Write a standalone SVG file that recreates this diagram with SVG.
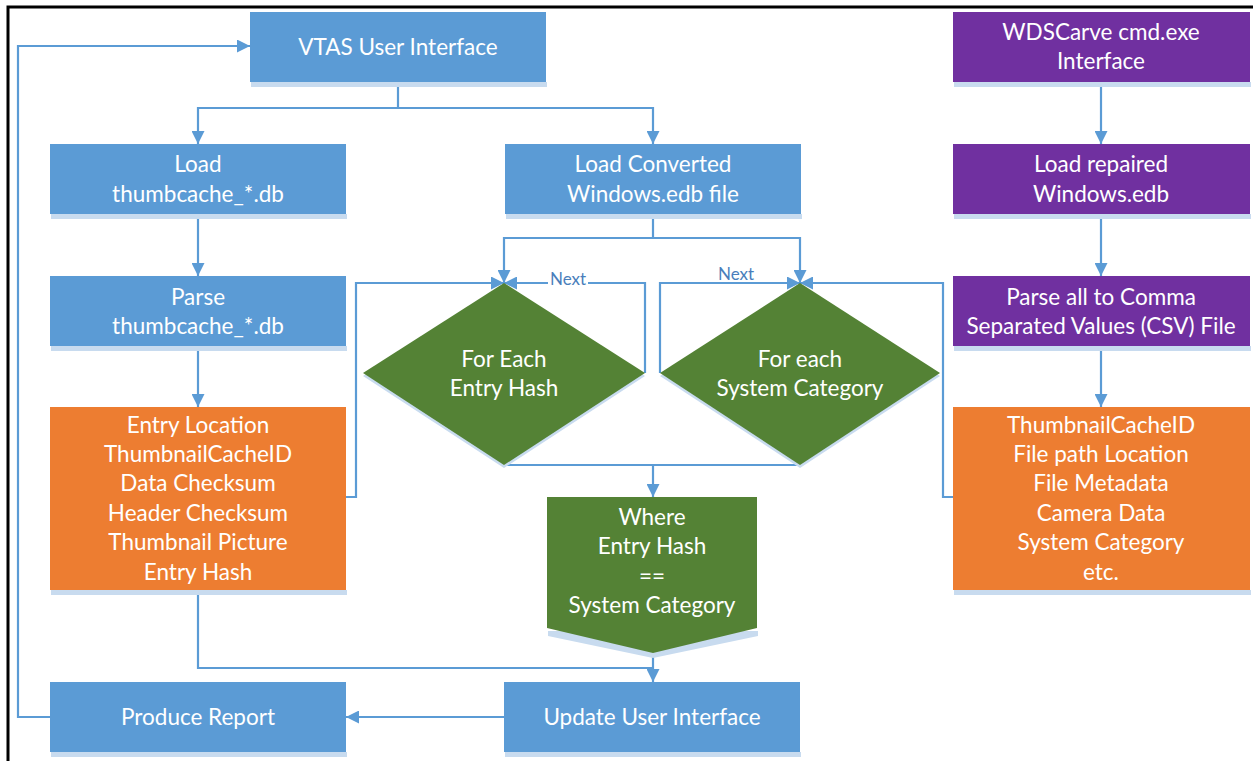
<svg xmlns="http://www.w3.org/2000/svg" width="1253" height="761" viewBox="0 0 1253 761">
<style>
.t{font-family:Lato,"Open Sans","Liberation Sans",sans-serif;font-size:22.5px;fill:#fff;text-anchor:middle}
.blue{fill:#5B9BD5}
.orange{fill:#ED7D31}
.purple{fill:#7030A0}
.green{fill:#548235}
.sh{fill:#c8dbef}
.ln{fill:none;stroke:#5B9BD5;stroke-width:2.2}
.nx{font-family:Lato,"Open Sans","Liberation Sans",sans-serif;font-size:17px;fill:#4a7ebb;text-anchor:middle}
</style>
<defs>
<marker id="arr" viewBox="0 0 10 10" refX="10" refY="5" markerWidth="13" markerHeight="13" markerUnits="userSpaceOnUse" orient="auto">
<path d="M0,0 L10,5 L0,10 z" fill="#5B9BD5"/>
</marker>
</defs>
<rect width="1253" height="761" fill="#fff"/>
<path d="M8,761 L8,7 L1253,7" fill="none" stroke="#000" stroke-width="3"/>

<g id="connectors">
<path class="ln" d="M398,82 V108 H198 V144" marker-end="url(#arr)"/>
<path class="ln" d="M398,108 H653 V144" marker-end="url(#arr)"/>
<path class="ln" d="M198,214 V276" marker-end="url(#arr)"/>
<path class="ln" d="M198,346 V407" marker-end="url(#arr)"/>
<path class="ln" d="M653,214 V238 H504 V283" marker-end="url(#arr)"/>
<path class="ln" d="M653,238 H800 V283" marker-end="url(#arr)"/>
<path class="ln" d="M346,497 H356 V283 H504" marker-end="url(#arr)"/>
<path class="ln" d="M645,373 V283 H504" marker-end="url(#arr)"/>
<path class="ln" d="M660,373 V283 H800" marker-end="url(#arr)"/>
<path class="ln" d="M953,497 H943 V283 H800" marker-end="url(#arr)"/>
<path class="ln" d="M504,465 H800"/>
<path class="ln" d="M653,465 V497" marker-end="url(#arr)"/>
<path class="ln" d="M198,590 V668 H653"/>
<path class="ln" d="M653,652 V682" marker-end="url(#arr)"/>
<path class="ln" d="M504,717 H346" marker-end="url(#arr)"/>
<path class="ln" d="M50,717 H18 V46 H250" marker-end="url(#arr)"/>
<path class="ln" d="M1101,82 V144" marker-end="url(#arr)"/>
<path class="ln" d="M1101,214 V276" marker-end="url(#arr)"/>
<path class="ln" d="M1101,346 V407" marker-end="url(#arr)"/>
<rect x="548" y="269" width="40" height="17" fill="#fff"/>
<text class="nx" x="568" y="285">Next</text>
<rect x="716" y="264" width="40" height="17" fill="#fff"/>
<text class="nx" x="736" y="280">Next</text>
</g>

<g id="vtas">
<rect class="sh" x="251" y="82" width="296" height="5"/>
<rect class="blue" x="250" y="12" width="296" height="70"/>
<text class="t" x="398" y="55">VTAS User Interface</text>
</g>
<g id="load-thumb">
<rect class="sh" x="51" y="214" width="296" height="5"/>
<rect class="blue" x="50" y="144" width="296" height="70"/>
<text class="t" x="198" y="172">Load</text>
<text class="t" x="198" y="202">thumbcache_*.db</text>
</g>
<g id="parse-thumb">
<rect class="sh" x="51" y="346" width="296" height="5"/>
<rect class="blue" x="50" y="276" width="296" height="70"/>
<text class="t" x="198" y="305">Parse</text>
<text class="t" x="198" y="334">thumbcache_*.db</text>
</g>
<g id="entry-fields">
<rect class="sh" x="51" y="590" width="296" height="5"/>
<rect class="orange" x="50" y="407" width="296" height="183"/>
<text class="t" x="198" y="433">Entry Location</text>
<text class="t" x="198" y="462">ThumbnailCacheID</text>
<text class="t" x="198" y="491">Data Checksum</text>
<text class="t" x="198" y="521">Header Checksum</text>
<text class="t" x="198" y="550">Thumbnail Picture</text>
<text class="t" x="198" y="580">Entry Hash</text>
</g>
<g id="produce-report">
<rect class="sh" x="51" y="752" width="296" height="5"/>
<rect class="blue" x="50" y="682" width="296" height="70"/>
<text class="t" x="198" y="725">Produce Report</text>
</g>
<g id="load-converted">
<rect class="sh" x="506" y="214" width="296" height="5"/>
<rect class="blue" x="505" y="144" width="296" height="70"/>
<text class="t" x="653" y="172">Load Converted</text>
<text class="t" x="653" y="202">Windows.edb file</text>
</g>
<g id="for-each-entry">
<polygon class="sh" points="504,286 645,376 504,468 363,376"/>
<polygon class="green" points="504,283 645,373 504,465 363,373"/>
<text class="t" x="504" y="367">For Each</text>
<text class="t" x="504" y="396">Entry Hash</text>
</g>
<g id="for-each-category">
<polygon class="sh" points="800,286 940,376 800,468 660,376"/>
<polygon class="green" points="800,283 940,373 800,465 660,373"/>
<text class="t" x="800" y="367">For each</text>
<text class="t" x="800" y="396">System Category</text>
</g>
<g id="where">
<polygon class="sh" points="548,631 758,631 758,636 653,658 548,636"/>
<polygon class="green" points="547,497 757,497 757,628 653,653 547,628"/>
<text class="t" x="652" y="525">Where</text>
<text class="t" x="652" y="554">Entry Hash</text>
<text class="t" x="652" y="584">==</text>
<text class="t" x="652" y="613">System Category</text>
</g>
<g id="update-ui">
<rect class="sh" x="505" y="752" width="296" height="5"/>
<rect class="blue" x="504" y="682" width="296" height="70"/>
<text class="t" x="652" y="725">Update User Interface</text>
</g>
<g id="wdscarve">
<rect class="sh" x="954" y="82" width="297" height="5"/>
<rect class="purple" x="953" y="12" width="297" height="70"/>
<text class="t" x="1101" y="40">WDSCarve cmd.exe</text>
<text class="t" x="1101" y="69">Interface</text>
</g>
<g id="load-repaired">
<rect class="sh" x="954" y="214" width="297" height="5"/>
<rect class="purple" x="953" y="144" width="297" height="70"/>
<text class="t" x="1101" y="172">Load repaired</text>
<text class="t" x="1101" y="202">Windows.edb</text>
</g>
<g id="parse-csv">
<rect class="sh" x="954" y="346" width="297" height="5"/>
<rect class="purple" x="953" y="276" width="297" height="70"/>
<text class="t" x="1101" y="305">Parse all to Comma</text>
<text class="t" x="1101" y="334">Separated Values (CSV) File</text>
</g>
<g id="csv-fields">
<rect class="sh" x="954" y="590" width="297" height="5"/>
<rect class="orange" x="953" y="407" width="297" height="183"/>
<text class="t" x="1101" y="433">ThumbnailCacheID</text>
<text class="t" x="1101" y="462">File path Location</text>
<text class="t" x="1101" y="491">File Metadata</text>
<text class="t" x="1101" y="521">Camera Data</text>
<text class="t" x="1101" y="550">System Category</text>
<text class="t" x="1101" y="580">etc.</text>
</g>
</svg>
